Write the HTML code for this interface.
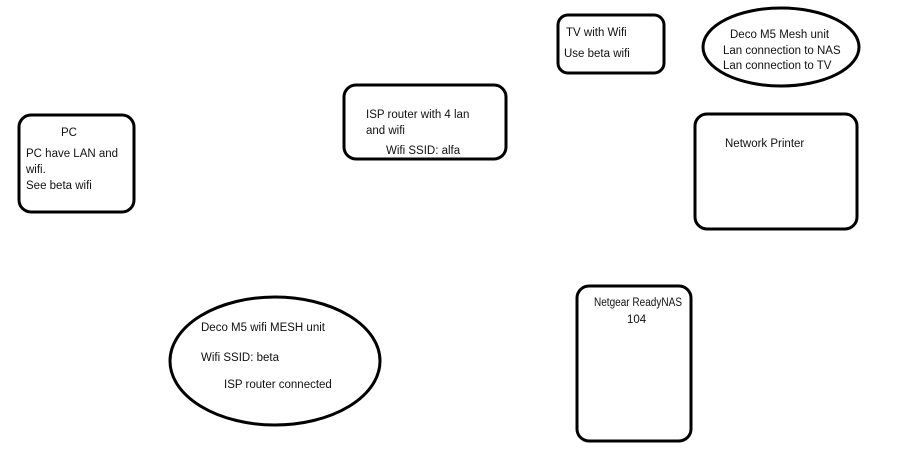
<!DOCTYPE html>
<html><head><meta charset="utf-8"><style>
html,body{margin:0;padding:0;background:#fff;}
svg{display:block;}
text{font-family:"Liberation Sans",sans-serif;font-size:11.5px;fill:#111;}
</style></head><body>
<svg width="920" height="471" viewBox="0 0 920 471">
<g fill="none" stroke="#000" stroke-width="3">
<rect x="19" y="115" width="115" height="97" rx="12"/>
<rect x="344" y="85" width="162" height="74" rx="12"/>
<rect x="558" y="15" width="106" height="58" rx="10"/>
<ellipse cx="781" cy="47" rx="78" ry="39"/>
<rect x="695" y="114" width="162" height="115" rx="12"/>
<rect x="577" y="286" width="114" height="155" rx="12"/>
<ellipse cx="275" cy="361" rx="105" ry="64"/>
</g>
<text x="61" y="136">PC</text>
<text x="26" y="157">PC have LAN and</text>
<text x="26" y="173">wifi.</text>
<text x="26" y="189">See beta wifi</text>
<text x="366" y="118">ISP router with 4 lan</text>
<text x="366" y="134">and wifi</text>
<text x="386" y="154">Wifi SSID:  alfa</text>
<text x="566" y="36">TV with Wifi</text>
<text x="564" y="57">Use beta wifi</text>
<text x="730" y="38">Deco M5 Mesh unit</text>
<text x="723" y="54">Lan connection to NAS</text>
<text x="723" y="69">Lan connection to TV</text>
<text x="725" y="147">Network Printer</text>
<text x="594" y="306" textLength="88" lengthAdjust="spacingAndGlyphs">Netgear ReadyNAS</text>
<text x="627" y="323">104</text>
<text x="201" y="331">Deco M5 wifi MESH unit</text>
<text x="201" y="361">Wifi SSID: beta</text>
<text x="224" y="388">ISP router connected</text>
</svg>
</body></html>
